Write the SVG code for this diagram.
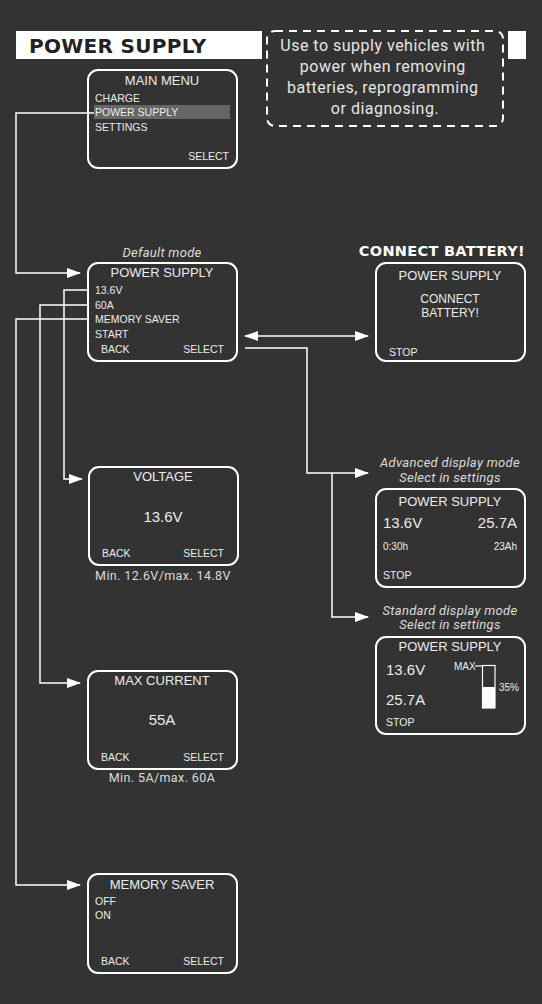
<svg xmlns="http://www.w3.org/2000/svg" width="542" height="1004" viewBox="0 0 542 1004">
<defs>
<marker id="ah" markerWidth="14" markerHeight="10" refX="13" refY="5" orient="auto" markerUnits="userSpaceOnUse">
<path d="M0,0 L14,5 L0,10 Z" fill="#ffffff"/>
</marker>
<marker id="ahs" markerWidth="14" markerHeight="10" refX="1" refY="5" orient="auto" markerUnits="userSpaceOnUse">
<path d="M14,0 L0,5 L14,10 Z" fill="#ffffff"/>
</marker>
<style>
.scr{fill:none;stroke:#ffffff;stroke-width:2}
.t{font-family:"Liberation Sans",Arial,sans-serif;fill:#ececec}
.h{font-size:13px;text-anchor:middle}
.s{font-size:10.5px}
.big{font-size:15px}
.r{text-anchor:end}
.m{text-anchor:middle}
.lab{font-family:"Roboto","Noto Sans",sans-serif;fill:#dcdcdc;font-size:12.5px;letter-spacing:0.4px;text-anchor:middle}
.it{font-family:"Roboto","Noto Sans",sans-serif;fill:#dcdcdc;font-size:13px;font-style:italic;letter-spacing:0.3px;text-anchor:middle}
.ln{fill:none;stroke:#ffffff;stroke-width:1.5}
</style>
</defs>
<rect width="542" height="1004" fill="#333333"/>

<g id="title">
<rect x="16" y="31" width="246" height="28" fill="#ffffff"/>
<rect x="508" y="31" width="18" height="28" fill="#ffffff"/>
<text x="29" y="53" font-family="'DejaVu Sans',sans-serif" font-weight="bold" font-size="20" letter-spacing="0.3" fill="#222222">POWER SUPPLY</text>
</g>

<g id="note">
<rect x="267" y="31" width="236" height="95" rx="8" fill="#333333" stroke="#ffffff" stroke-width="2" stroke-dasharray="8,6"/>
<text font-family="Roboto,'Noto Sans',sans-serif" font-size="16" letter-spacing="0.5" fill="#e6e6e6" text-anchor="middle">
<tspan x="385" y="51">Use to supply vehicles with</tspan>
<tspan x="385" y="72">power when removing</tspan>
<tspan x="385" y="93">batteries, reprogramming</tspan>
<tspan x="385" y="114">or diagnosing.</tspan>
</text>
</g>

<g id="connectors">
<polyline class="ln" points="94,113 16,113 16,273 80,273" marker-end="url(#ah)"/>
<polyline class="ln" points="88,290 64,290 64,479 82,479" marker-end="url(#ah)"/>
<polyline class="ln" points="88,305 40,305 40,683 80,683" marker-end="url(#ah)"/>
<polyline class="ln" points="88,319 16,319 16,885 80,885" marker-end="url(#ah)"/>
<line class="ln" x1="245" y1="336" x2="368" y2="336" marker-start="url(#ahs)" marker-end="url(#ah)"/>
<polyline class="ln" points="245,348 307,348 307,473 368,473" marker-end="url(#ah)"/>
<polyline class="ln" points="332,473 332,617 368,617" marker-end="url(#ah)"/>
</g>

<g id="main-menu">
<rect class="scr" x="88" y="70" width="149" height="98" rx="10"/>
<text class="t h" x="162" y="85">MAIN MENU</text>
<text class="t s" x="95" y="102">CHARGE</text>
<rect x="94" y="105" width="136" height="14" fill="#666666"/>
<text class="t s" x="95" y="116">POWER SUPPLY</text>
<text class="t s" x="95" y="131">SETTINGS</text>
<text class="t s r" x="229" y="160">SELECT</text>
</g>

<g id="power-supply">
<text class="it" x="162" y="257">Default mode</text>
<rect class="scr" x="88" y="263" width="149" height="98" rx="10"/>
<text class="t h" x="162" y="277">POWER SUPPLY</text>
<text class="t s" x="95" y="294">13.6V</text>
<text class="t s" x="95" y="309">60A</text>
<text class="t s" x="95" y="323">MEMORY SAVER</text>
<text class="t s" x="95" y="338">START</text>
<text class="t s" x="101" y="353">BACK</text>
<text class="t s r" x="224" y="353">SELECT</text>
</g>

<g id="connect-battery">
<text x="525" y="256" font-family="'DejaVu Sans',sans-serif" font-weight="bold" font-size="14.5" letter-spacing="0.3" fill="#ffffff" text-anchor="end">CONNECT BATTERY!</text>
<rect class="scr" x="376" y="263" width="149" height="98" rx="10"/>
<text class="t h" x="450" y="280">POWER SUPPLY</text>
<text class="t m" font-size="12" x="450" y="303">CONNECT</text>
<text class="t m" font-size="12" x="450" y="317">BATTERY!</text>
<text class="t s" x="389" y="356">STOP</text>
</g>

<g id="advanced">
<text class="it" x="450" y="467">Advanced display mode</text>
<text class="it" x="450" y="482">Select in settings</text>
<rect class="scr" x="376" y="489" width="149" height="98" rx="10"/>
<text class="t h" x="450" y="506">POWER SUPPLY</text>
<text class="t big" x="383" y="528">13.6V</text>
<text class="t big r" x="517" y="528">25.7A</text>
<text class="t" font-size="10" x="383" y="550">0:30h</text>
<text class="t r" font-size="10" x="517" y="550">23Ah</text>
<text class="t s" x="383" y="579">STOP</text>
</g>

<g id="standard">
<text class="it" x="450" y="615">Standard display mode</text>
<text class="it" x="450" y="629">Select in settings</text>
<rect class="scr" x="376" y="637" width="149" height="97" rx="10"/>
<text class="t h" x="450" y="651">POWER SUPPLY</text>
<text class="t big" x="386" y="675">13.6V</text>
<text class="t big" x="386" y="705">25.7A</text>
<text class="t s" x="386" y="726">STOP</text>
<text class="t" font-size="10" x="454" y="670">MAX</text>
<line x1="475" y1="666" x2="483" y2="666" stroke="#ffffff" stroke-width="1.2"/>
<rect x="482.5" y="665.5" width="12.5" height="42.5" fill="none" stroke="#ffffff" stroke-width="1.2"/>
<rect x="482.5" y="687" width="12.5" height="21" fill="#ffffff"/>
<text class="t" font-size="10" x="499" y="691">35%</text>
</g>

<g id="voltage">
<rect class="scr" x="89" y="467" width="149" height="98" rx="10"/>
<text class="t h" x="163" y="481">VOLTAGE</text>
<text class="t big m" x="163" y="522">13.6V</text>
<text class="t s" x="102" y="557">BACK</text>
<text class="t s r" x="224" y="557">SELECT</text>
<text class="lab" x="163" y="580">Min. 12.6V/max. 14.8V</text>
</g>

<g id="max-current">
<rect class="scr" x="88" y="671" width="149" height="98" rx="10"/>
<text class="t h" x="162" y="685">MAX CURRENT</text>
<text class="t big m" x="162" y="725">55A</text>
<text class="t s" x="101" y="761">BACK</text>
<text class="t s r" x="224" y="761">SELECT</text>
<text class="lab" x="162" y="782">Min. 5A/max. 60A</text>
</g>

<g id="memory-saver">
<rect class="scr" x="88" y="874" width="149" height="99" rx="10"/>
<text class="t h" x="162" y="889">MEMORY SAVER</text>
<text class="t s" x="95" y="905">OFF</text>
<text class="t s" x="95" y="919">ON</text>
<text class="t s" x="101" y="965">BACK</text>
<text class="t s r" x="224" y="965">SELECT</text>
</g>
</svg>
